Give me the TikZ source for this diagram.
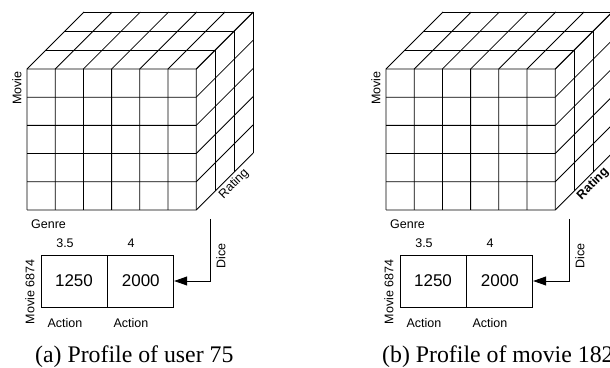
\documentclass[tikz,border=0pt]{standalone}
\usepackage{fontspec}
\setmainfont{Liberation Serif}
\setsansfont{Liberation Sans}
\usetikzlibrary{arrows.meta}
\tikzset{
    lbl/.style={font=\sffamily\fontsize{12.5}{14}\selectfont, inner sep=0pt},
    valbox/.style={draw, line width=0.8pt, minimum width=66pt, minimum height=52pt, inner sep=0pt, font=\sffamily\fontsize{17}{20}\selectfont},
    subcap/.style={font=\fontsize{23.8}{28}\selectfont, inner sep=0pt, anchor=base west}
}
\begin{document}
\begin{tikzpicture}[x=1pt,y=1pt]
        \useasboundingbox (0,0) rectangle (610,367);
        \pgfmathsetmacro\cubex{6}
        \pgfmathsetmacro\cubey{5}
        \pgfmathsetmacro\cubez{3}
        \foreach \p/\dx/\cx/\rfont/\cap in {a/0/35/\mdseries/{(a) Profile of user 75}, b/359/23/\bfseries/{(b) Profile of movie 1820}} {
        \begin{scope}[xshift=\dx pt]
            \begin{scope}[shift={(27,157)}, x=28.2pt, y=28.2pt, z={(-19pt,-19pt)}, line width=0.8pt]
                \foreach \i in {0,...,\cubex} \draw (\i,0,0) -- (\i,\cubey,0) -- (\i,\cubey,-\cubez);
                \foreach \j in {0,...,\cubey} \draw (0,\j,0) -- (\cubex,\j,0) -- (\cubex,\j,-\cubez);
                \foreach \k in {1,...,\cubez} \draw (0,\cubey,-\k) -- (\cubex,\cubey,-\k) -- (\cubex,0,-\k);
            \end{scope}
            \node[lbl, rotate=90] (movie\p) at (17,279) {Movie};
            \node[lbl, rotate=45] (rating\p) at (234,183) {\rfont Rating};
            \node[lbl, anchor=west] (genre\p) at (31,143) {Genre};
            \node[valbox] (one\p) at (74,86) {1250};
            \node[valbox, anchor=west] (two\p) at (one\p.east) {2000};
            \node[lbl] (ra\p) at (65,124) {3.5};
            \node[lbl] (rb\p) at (131,124) {4};
            \node[lbl] (ga\p) at (65,44) {Action};
            \node[lbl] (gb\p) at (131,44) {Action};
            \node[lbl, rotate=90] (item\p) at (30,75) {Movie 6874};
            \node[lbl, rotate=90] (dicelbl\p) at (221,111) {Dice};
            \coordinate (dice\p) at (210,148);
            \draw[line width=0.8pt, -{Triangle[length=13pt,width=9pt]}] (dice\p) |- (two\p.east);
            \node[subcap] (cap\p) at (\cx,5) {\cap};
        \end{scope}
        }
\end{tikzpicture}
\end{document}
